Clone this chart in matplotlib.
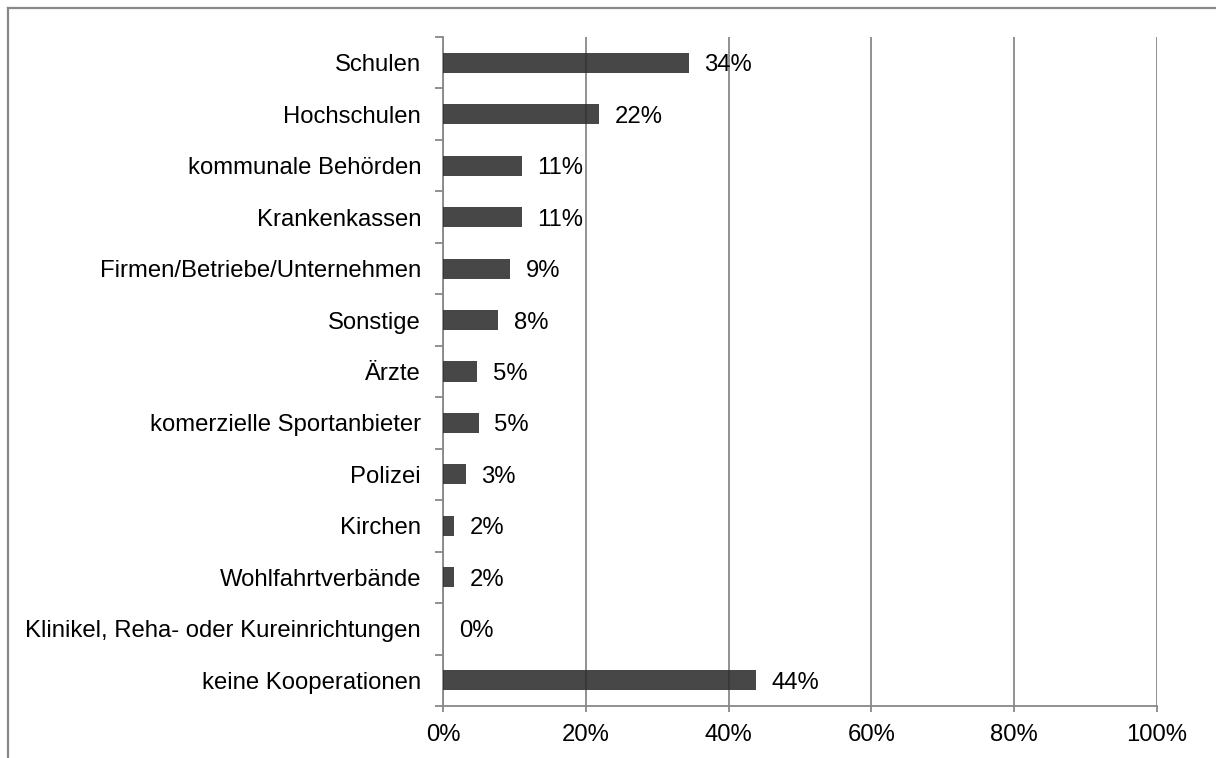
import matplotlib
matplotlib.use("Agg")
import matplotlib.pyplot as plt
from matplotlib import font_manager as fm
from matplotlib.ticker import FixedLocator, FuncFormatter
from matplotlib.lines import Line2D

categories = ["Schulen", "Hochschulen", "kommunale Behörden", "Krankenkassen",
              "Firmen/Betriebe/Unternehmen", "Sonstige", "Ärzte",
              "komerzielle Sportanbieter", "Polizei", "Kirchen",
              "Wohlfahrtverbände", "Klinikel, Reha- oder Kureinrichtungen",
              "keine Kooperationen"]
values = [34.4, 21.8, 11.0, 11.0, 9.4, 7.7, 4.8, 5.0, 3.2, 1.6, 1.6, 0.0, 43.8]
labels = ["34%", "22%", "11%", "11%", "9%", "8%", "5%", "5%", "3%", "2%", "2%", "0%", "44%"]
xticks = [0, 20, 40, 60, 80, 100]

fam = 'Liberation Sans'
for f in fm.findSystemFonts():
    if f.endswith('LiberationSans-Regular.ttf'):
        fm.fontManager.addfont(f)
        fam = fm.FontProperties(fname=f).get_name()
        break
plt.rcParams['font.family'] = [fam, 'DejaVu Sans']
FS = 17.2
W, H = 1216, 758
fig = plt.figure(figsize=(W / 100, H / 100), dpi=100)
ax = fig.add_axes([443 / W, 1 - 706 / H, (1157 - 443) / W, (706 - 37) / H])

n = len(categories)
ypos = list(range(n))
ax.barh(ypos, values, height=0.39, color='#2c2c2c', alpha=0.87, zorder=3)
for y, v, lab in zip(ypos, values, labels):
    ax.text(v + 2.2, y, lab, va='center_baseline', ha='left', fontsize=FS, color='black', zorder=4)

ax.set_ylim(n - 0.5, -0.5)
ax.set_xlim(0, 100)
ax.set_yticks(ypos)
ax.set_yticklabels(categories, fontsize=FS)
ax.yaxis.set_minor_locator(FixedLocator([i - 0.5 for i in range(n + 1)]))
ax.tick_params(axis='y', which='major', length=0, pad=15.8)
ax.tick_params(axis='y', which='minor', length=5.8, width=1.3, color='#888888')
ax.set_xticks(xticks)
ax.xaxis.set_major_formatter(FuncFormatter(lambda v, p: f"{v:.0f}%"))
ax.tick_params(axis='x', which='major', length=4.5, width=1.3, color='#888888',
               labelsize=FS, pad=8.5)
ax.grid(axis='x', color='#888888', linewidth=1.3, zorder=1)
ax.set_axisbelow(True)
for s in ['top', 'right']:
    ax.spines[s].set_visible(False)
for s in ['left', 'bottom']:
    ax.spines[s].set_color('#888888')
    ax.spines[s].set_linewidth(1.3)

# outer frame (partially cropped)
fig.add_artist(Line2D([8 / W, 1.0], [1 - 8 / H, 1 - 8 / H], transform=fig.transFigure,
                      color='#888888', linewidth=1.6))
fig.add_artist(Line2D([8 / W, 8 / W], [1 - 8 / H, 0.0], transform=fig.transFigure,
                      color='#888888', linewidth=1.6))

fig.savefig("out.png", dpi=100, facecolor='white')
